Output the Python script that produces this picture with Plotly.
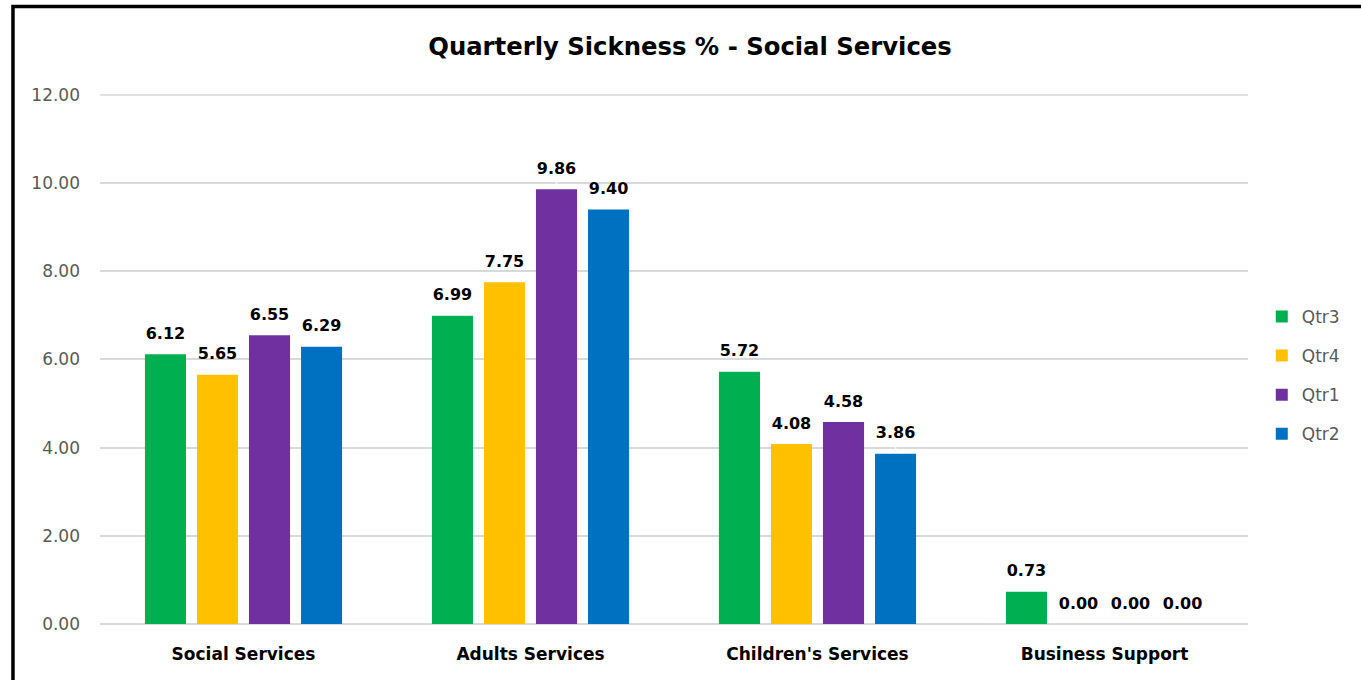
import plotly.graph_objects as go

categories = ["Social Services", "Adults Services", "Children's Services", "Business Support"]
qtr3 = [6.12, 6.99, 5.72, 0.73]
qtr4 = [5.65, 7.75, 4.08, 0.00]
qtr1 = [6.55, 9.86, 4.58, 0.00]
qtr2 = [6.29, 9.40, 3.86, 0.00]
series_names = ["Qtr3", "Qtr4", "Qtr1", "Qtr2"]
series_values = [qtr3, qtr4, qtr1, qtr2]
colors = ["#00B050", "#FFC000", "#7030A0", "#0070C0"]
y_ticks = [0, 2, 4, 6, 8, 10, 12]

FONT = "DejaVu Sans, Verdana, sans-serif"
GRID = "#D9D9D9"

fig = go.Figure()
for name, vals, col in zip(series_names, series_values, colors):
    fig.add_trace(go.Bar(
        x=categories, y=vals, name=name, marker_color=col,
        marker_line_width=0,
        text=[f"<span style='font-size:16px'>{v:.2f}</span><br><span style='color:white'>.</span>" for v in vals],
        textposition="outside",
        textfont=dict(family=FONT, size=8, color="#000000", weight="bold"),
        constraintext="none",
        cliponaxis=False, legendgroup=name,
    ))

fig.update_layout(
    width=1361, height=680,
    paper_bgcolor="white", plot_bgcolor="white",
    margin=dict(l=100, r=113, t=94, b=56),
    barmode="group", bargap=0.275, bargroupgap=0.21,
    title=dict(text="<b>Quarterly Sickness % - Social Services</b>",
               x=0.507, xanchor="center", y=0.931, yanchor="middle",
               font=dict(family=FONT, size=24.3, color="#000000")),
    legend=dict(x=1.012, y=0.469, xanchor="left", yanchor="middle",
                font=dict(family=FONT, size=17, color="#595959"),
                tracegroupgap=14, itemwidth=30),
    showlegend=True,
)
fig.update_yaxes(range=[0, 12.02], tickvals=y_ticks, ticktext=[f"{v:.2f}" for v in y_ticks],
                 showgrid=True, gridcolor=GRID, gridwidth=1.5,
                 zeroline=True, zerolinecolor=GRID, zerolinewidth=1.5,
                 showline=False, ticks="", ticklabelstandoff=19,
                 tickfont=dict(family=FONT, size=17, color="#595959"))
fig.update_xaxes(showline=False, ticks="", ticklabelstandoff=18,
                 tickfont=dict(family=FONT, size=17, color="#000000", weight="bold"))

# top gridline (at the highest tick value) drawn explicitly
fig.add_shape(type="line", xref="paper", yref="y", x0=0, x1=1,
              y0=y_ticks[-1], y1=y_ticks[-1], line=dict(color=GRID, width=1.5), layer="below")

# outer border like the reference frame
fig.add_shape(type="rect", xref="paper", yref="paper",
              x0=-0.0758, x1=1.2, y0=-0.3, y1=1.165,
              line=dict(color="black", width=3.5), fillcolor="rgba(0,0,0,0)", layer="above")

fig.write_html("out.html", config={"displayModeBar": False},
               post_script="document.body.style.margin='0px';")
